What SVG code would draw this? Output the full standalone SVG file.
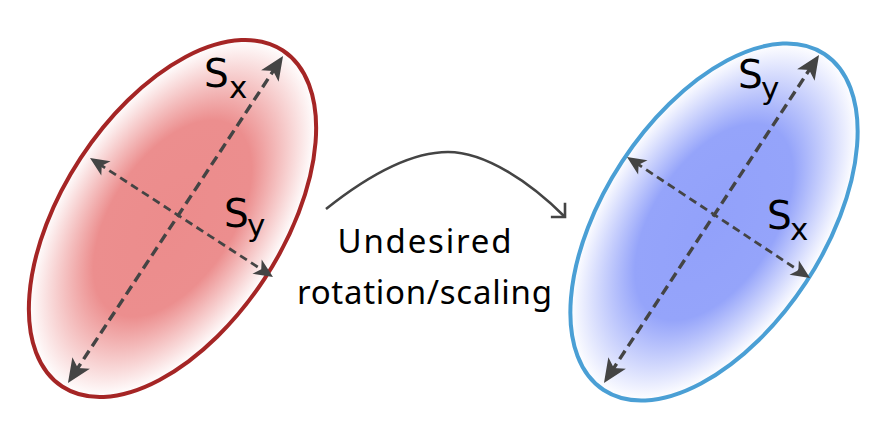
<svg xmlns="http://www.w3.org/2000/svg" width="889" height="421" viewBox="0 0 889 421">
  <style>
    .lbl { font-family: "DejaVu Sans", "Noto Sans", sans-serif; fill: #000; }
    .big { font-size: 39px; }
    .sub { font-size: 31px; }
    .cap { font-family: "Noto Sans", "Open Sans", sans-serif; font-size: 33px; fill: #000; text-anchor: middle; }
    .axis-major { stroke: #444; stroke-width: 3.4; stroke-dasharray: 10 5.5; fill: none; }
    .axis-minor { stroke: #444; stroke-width: 2.8; stroke-dasharray: 8 5; fill: none; }
    .curve { stroke: #444; stroke-width: 2.6; fill: none; }
  </style>
  <defs>
    <radialGradient id="gRed" cx="0.5" cy="0.5" r="0.5">
      <stop offset="0" stop-color="#EC8C8C"/>
      <stop offset="0.55" stop-color="#EC8E8E"/>
      <stop offset="1" stop-color="#FFFFFF"/>
    </radialGradient>
    <radialGradient id="gBlue" cx="0.5" cy="0.5" r="0.5">
      <stop offset="0" stop-color="#92A1FA"/>
      <stop offset="0.55" stop-color="#95A4FA"/>
      <stop offset="1" stop-color="#FFFFFF"/>
    </radialGradient>
    <marker id="headMajor" markerUnits="userSpaceOnUse" markerWidth="40" markerHeight="40" viewBox="-20 -20 40 40" refX="0" refY="0" orient="auto-start-reverse">
      <path d="M13,0 L-11,-10.5 L-5,0 L-11,10.5 Z" fill="#444"/>
    </marker>
    <marker id="headMinor" markerUnits="userSpaceOnUse" markerWidth="40" markerHeight="40" viewBox="-20 -20 40 40" refX="0" refY="0" orient="auto-start-reverse">
      <path d="M10,0 L-9,-8.5 L-4,0 L-9,8.5 Z" fill="#444"/>
    </marker>
    <marker id="headOpen" markerUnits="userSpaceOnUse" markerWidth="40" markerHeight="40" viewBox="-20 -20 40 40" refX="0" refY="0" orient="auto">
      <path d="M-10,-10 L0,0 L-10,10" fill="none" stroke="#444" stroke-width="2.6" stroke-linejoin="miter"/>
    </marker>
  </defs>

  <g id="ellipse-left">
    <ellipse cx="0" cy="0" rx="201" ry="110" transform="translate(172.5 218.5) rotate(-56.7)" fill="url(#gRed)" stroke="#A52525" stroke-width="4"/>
    <line class="axis-major" x1="75.1" y1="372.1" x2="275.9" y2="66.9" marker-start="url(#headMajor)" marker-end="url(#headMajor)"/>
    <line class="axis-minor" x1="98.4" y1="163.5" x2="264.6" y2="271.5" marker-start="url(#headMinor)" marker-end="url(#headMinor)"/>
    <text class="lbl big" x="204" y="87">S<tspan class="sub" x="229" y="98">x</tspan></text>
    <text class="lbl big" x="224" y="227">S<tspan class="sub" x="247" y="236">y</tspan></text>
  </g>

  <g id="ellipse-right">
    <ellipse cx="0" cy="0" rx="201" ry="110" transform="translate(714 222) rotate(-56.7)" fill="url(#gBlue)" stroke="#4A9FD5" stroke-width="4"/>
    <line class="axis-major" x1="611.1" y1="372.1" x2="811.9" y2="65.9" marker-start="url(#headMajor)" marker-end="url(#headMajor)"/>
    <line class="axis-minor" x1="635.3" y1="162.5" x2="801.7" y2="272.5" marker-start="url(#headMinor)" marker-end="url(#headMinor)"/>
    <text class="lbl big" x="738" y="88">S<tspan class="sub" x="761" y="99">y</tspan></text>
    <text class="lbl big" x="767" y="229">S<tspan class="sub" x="790" y="240">x</tspan></text>
  </g>

  <g id="connectors">
    <path class="curve" d="M326,209 C375,170 415,152 448,152 C485,152 530,182 565,217" marker-end="url(#headOpen)"/>
  </g>

  <g id="transform-label">
    <text class="cap" x="424.5" y="253" textLength="174" lengthAdjust="spacing">Undesired</text>
    <text class="cap" x="424.5" y="304" textLength="255" lengthAdjust="spacing">rotation/scaling</text>
  </g>
</svg>
